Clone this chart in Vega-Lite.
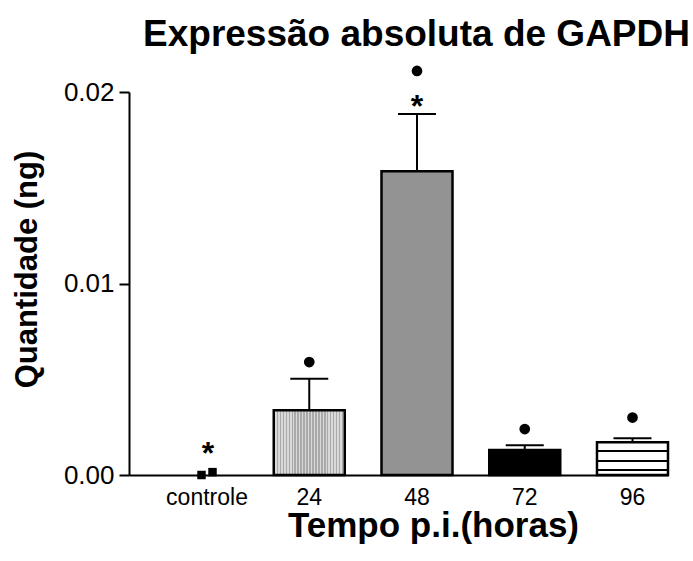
{
  "$schema": "https://vega.github.io/schema/vega-lite/v6.json",
  "width": 539,
  "height": 383,
  "autosize": "none",
  "padding": {"left": 129, "top": 92, "right": 25, "bottom": 86},
  "background": "white",
  "config": {
    "view": {"stroke": null},
    "font": "Liberation Sans",
    "axis": {
      "domainColor": "black",
      "domainWidth": 2,
      "tickColor": "black",
      "tickWidth": 2,
      "labelColor": "black",
      "labelFont": "Liberation Sans",
      "titleColor": "black",
      "titleFont": "Liberation Sans",
      "titleFontWeight": "bold",
      "grid": false
    },
    "axisX": {"labelFontSize": 23, "titleFontSize": 35},
    "axisY": {"labelFontSize": 26, "titleFontSize": 31}
  },
  "title": {
    "text": "Expressão absoluta de GAPDH",
    "font": "Liberation Sans",
    "fontSize": 37,
    "fontWeight": "bold",
    "color": "black",
    "anchor": "middle",
    "frame": "group",
    "dx": 18,
    "offset": 12
  },
  "datasets": {
    "grupos": [
      {"tempo": "controle", "media": null, "superior": null, "sinal": null},
      {"tempo": "24", "media": 0.00338, "superior": 0.00503, "sinal": 0.0059},
      {"tempo": "48", "media": 0.01586, "superior": 0.01885, "sinal": 0.0211},
      {"tempo": "72", "media": 0.0013, "superior": 0.00156, "sinal": 0.0024},
      {"tempo": "96", "media": 0.00171, "superior": 0.00192, "sinal": 0.003}
    ],
    "controle": [
      {"tempo": "controle", "ponto": 1, "quantidade": 0.0},
      {"tempo": "controle", "ponto": 2, "quantidade": 0.00015}
    ],
    "asteriscos": [
      {"tempo": "controle", "posicao": 0.0006},
      {"tempo": "48", "posicao": 0.01869}
    ]
  },
  "encoding": {
    "x": {
      "field": "tempo",
      "type": "nominal",
      "sort": ["controle", "24", "48", "72", "96"],
      "scale": {
        "domain": ["controle", "24", "48", "72", "96"],
        "paddingInner": 0.341,
        "paddingOuter": 0.1717,
        "align": 1
      },
      "axis": {
        "title": "Tempo p.i.(horas)",
        "titleX": 304,
        "titleY": 61,
        "titleBaseline": "alphabetic",
        "labelAngle": 0,
        "labelFontSize": 23,
        "ticks": false,
        "tickSize": 0,
        "labelPadding": 11,
        "labelOffset": {"condition": {"test": "datum.value === 'controle'", "value": 5.5}, "value": 0}
      }
    }
  },
  "layer": [
    {
      "data": {"name": "grupos"},
      "transform": [{"filter": "datum.media != null"}],
      "mark": {"type": "bar", "stroke": "black", "strokeWidth": 2.5},
      "encoding": {
        "y": {
          "field": "media",
          "type": "quantitative",
          "scale": {"domain": [0, 0.02], "nice": false},
          "axis": {
            "title": "Quantidade (ng)",
            "titleX": -92.5,
            "titleY": 177,
            "titleBaseline": "alphabetic",
            "titleAngle": -90,
            "values": [0, 0.01, 0.02],
            "format": ".2f",
            "labelFontSize": 26,
            "tickSize": 10,
            "labelPadding": 5
          }
        },
        "fill": {
          "condition": [
            {
              "test": "datum.tempo === '24'",
              "value": {
                "gradient": "linear",
                "x1": 0, "y1": 0, "x2": 1, "y2": 0,
                "stops": [
                  {"offset": 0, "color": "#a9a9a9"},
                  {"offset": 0.0208, "color": "#a9a9a9"}, {"offset": 0.0208, "color": "#d9d9d9"},
                  {"offset": 0.0417, "color": "#d9d9d9"}, {"offset": 0.0417, "color": "#a9a9a9"},
                  {"offset": 0.0625, "color": "#a9a9a9"}, {"offset": 0.0625, "color": "#d9d9d9"},
                  {"offset": 0.0833, "color": "#d9d9d9"}, {"offset": 0.0833, "color": "#a9a9a9"},
                  {"offset": 0.1042, "color": "#a9a9a9"}, {"offset": 0.1042, "color": "#d9d9d9"},
                  {"offset": 0.125, "color": "#d9d9d9"}, {"offset": 0.125, "color": "#a9a9a9"},
                  {"offset": 0.1458, "color": "#a9a9a9"}, {"offset": 0.1458, "color": "#d9d9d9"},
                  {"offset": 0.1667, "color": "#d9d9d9"}, {"offset": 0.1667, "color": "#a9a9a9"},
                  {"offset": 0.1875, "color": "#a9a9a9"}, {"offset": 0.1875, "color": "#d9d9d9"},
                  {"offset": 0.2083, "color": "#d9d9d9"}, {"offset": 0.2083, "color": "#a9a9a9"},
                  {"offset": 0.2292, "color": "#a9a9a9"}, {"offset": 0.2292, "color": "#d9d9d9"},
                  {"offset": 0.25, "color": "#d9d9d9"}, {"offset": 0.25, "color": "#a9a9a9"},
                  {"offset": 0.2708, "color": "#a9a9a9"}, {"offset": 0.2708, "color": "#d9d9d9"},
                  {"offset": 0.2917, "color": "#d9d9d9"}, {"offset": 0.2917, "color": "#a9a9a9"},
                  {"offset": 0.3125, "color": "#a9a9a9"}, {"offset": 0.3125, "color": "#d9d9d9"},
                  {"offset": 0.3333, "color": "#d9d9d9"}, {"offset": 0.3333, "color": "#a9a9a9"},
                  {"offset": 0.3542, "color": "#a9a9a9"}, {"offset": 0.3542, "color": "#d9d9d9"},
                  {"offset": 0.375, "color": "#d9d9d9"}, {"offset": 0.375, "color": "#a9a9a9"},
                  {"offset": 0.3958, "color": "#a9a9a9"}, {"offset": 0.3958, "color": "#d9d9d9"},
                  {"offset": 0.4167, "color": "#d9d9d9"}, {"offset": 0.4167, "color": "#a9a9a9"},
                  {"offset": 0.4375, "color": "#a9a9a9"}, {"offset": 0.4375, "color": "#d9d9d9"},
                  {"offset": 0.4583, "color": "#d9d9d9"}, {"offset": 0.4583, "color": "#a9a9a9"},
                  {"offset": 0.4792, "color": "#a9a9a9"}, {"offset": 0.4792, "color": "#d9d9d9"},
                  {"offset": 0.5, "color": "#d9d9d9"}, {"offset": 0.5, "color": "#a9a9a9"},
                  {"offset": 0.5208, "color": "#a9a9a9"}, {"offset": 0.5208, "color": "#d9d9d9"},
                  {"offset": 0.5417, "color": "#d9d9d9"}, {"offset": 0.5417, "color": "#a9a9a9"},
                  {"offset": 0.5625, "color": "#a9a9a9"}, {"offset": 0.5625, "color": "#d9d9d9"},
                  {"offset": 0.5833, "color": "#d9d9d9"}, {"offset": 0.5833, "color": "#a9a9a9"},
                  {"offset": 0.6042, "color": "#a9a9a9"}, {"offset": 0.6042, "color": "#d9d9d9"},
                  {"offset": 0.625, "color": "#d9d9d9"}, {"offset": 0.625, "color": "#a9a9a9"},
                  {"offset": 0.6458, "color": "#a9a9a9"}, {"offset": 0.6458, "color": "#d9d9d9"},
                  {"offset": 0.6667, "color": "#d9d9d9"}, {"offset": 0.6667, "color": "#a9a9a9"},
                  {"offset": 0.6875, "color": "#a9a9a9"}, {"offset": 0.6875, "color": "#d9d9d9"},
                  {"offset": 0.7083, "color": "#d9d9d9"}, {"offset": 0.7083, "color": "#a9a9a9"},
                  {"offset": 0.7292, "color": "#a9a9a9"}, {"offset": 0.7292, "color": "#d9d9d9"},
                  {"offset": 0.75, "color": "#d9d9d9"}, {"offset": 0.75, "color": "#a9a9a9"},
                  {"offset": 0.7708, "color": "#a9a9a9"}, {"offset": 0.7708, "color": "#d9d9d9"},
                  {"offset": 0.7917, "color": "#d9d9d9"}, {"offset": 0.7917, "color": "#a9a9a9"},
                  {"offset": 0.8125, "color": "#a9a9a9"}, {"offset": 0.8125, "color": "#d9d9d9"},
                  {"offset": 0.8333, "color": "#d9d9d9"}, {"offset": 0.8333, "color": "#a9a9a9"},
                  {"offset": 0.8542, "color": "#a9a9a9"}, {"offset": 0.8542, "color": "#d9d9d9"},
                  {"offset": 0.875, "color": "#d9d9d9"}, {"offset": 0.875, "color": "#a9a9a9"},
                  {"offset": 0.8958, "color": "#a9a9a9"}, {"offset": 0.8958, "color": "#d9d9d9"},
                  {"offset": 0.9167, "color": "#d9d9d9"}, {"offset": 0.9167, "color": "#a9a9a9"},
                  {"offset": 0.9375, "color": "#a9a9a9"}, {"offset": 0.9375, "color": "#d9d9d9"},
                  {"offset": 0.9583, "color": "#d9d9d9"}, {"offset": 0.9583, "color": "#a9a9a9"},
                  {"offset": 0.9792, "color": "#a9a9a9"}, {"offset": 0.9792, "color": "#d9d9d9"},
                  {"offset": 1, "color": "#d9d9d9"}
                ]
              }
            },
            {"test": "datum.tempo === '48'", "value": "#939393"},
            {"test": "datum.tempo === '72'", "value": "black"}
          ],
          "value": {
            "gradient": "linear",
            "x1": 0, "y1": 0, "x2": 0, "y2": 1,
            "stops": [
              {"offset": 0, "color": "white"},
              {"offset": 0.245, "color": "white"},
              {"offset": 0.246, "color": "black"},
              {"offset": 0.305, "color": "black"},
              {"offset": 0.306, "color": "white"},
              {"offset": 0.55, "color": "white"},
              {"offset": 0.551, "color": "black"},
              {"offset": 0.61, "color": "black"},
              {"offset": 0.611, "color": "white"},
              {"offset": 0.825, "color": "white"},
              {"offset": 0.826, "color": "black"},
              {"offset": 0.885, "color": "black"},
              {"offset": 0.886, "color": "white"},
              {"offset": 1, "color": "white"}
            ]
          }
        }
      }
    },
    {
      "data": {"name": "grupos"},
      "transform": [{"filter": "datum.media != null"}],
      "mark": {"type": "rule", "color": "black", "strokeWidth": 2},
      "encoding": {
        "y": {"field": "media", "type": "quantitative"},
        "y2": {"field": "superior"}
      }
    },
    {
      "data": {"name": "grupos"},
      "transform": [{"filter": "datum.media != null"}],
      "mark": {"type": "tick", "color": "black", "size": 38, "thickness": 2, "opacity": 1},
      "encoding": {
        "y": {"field": "superior", "type": "quantitative"}
      }
    },
    {
      "data": {"name": "grupos"},
      "transform": [{"filter": "datum.sinal != null"}],
      "mark": {"type": "circle", "color": "black", "size": 115, "opacity": 1},
      "encoding": {
        "y": {"field": "sinal", "type": "quantitative"}
      }
    },
    {
      "data": {"name": "controle"},
      "transform": [{"filter": "datum.ponto === 1"}],
      "mark": {"type": "square", "color": "black", "size": 72, "opacity": 1, "filled": true},
      "encoding": {
        "y": {"field": "quantidade", "type": "quantitative"}
      }
    },
    {
      "data": {"name": "controle"},
      "transform": [{"filter": "datum.ponto === 2"}],
      "mark": {"type": "square", "color": "black", "size": 72, "opacity": 1, "filled": true, "xOffset": 11},
      "encoding": {
        "y": {"field": "quantidade", "type": "quantitative"}
      }
    },
    {
      "data": {"name": "asteriscos"},
      "transform": [{"filter": "datum.tempo === 'controle'"}],
      "mark": {"type": "text", "text": "*", "font": "Liberation Sans", "fontSize": 32, "fontWeight": "bold", "color": "black", "baseline": "alphabetic", "dx": 6.5},
      "encoding": {
        "y": {"field": "posicao", "type": "quantitative"}
      }
    },
    {
      "data": {"name": "asteriscos"},
      "transform": [{"filter": "datum.tempo === '48'"}],
      "mark": {"type": "text", "text": "*", "font": "Liberation Sans", "fontSize": 32, "fontWeight": "bold", "color": "black", "baseline": "alphabetic"},
      "encoding": {
        "y": {"field": "posicao", "type": "quantitative"}
      }
    }
  ]
}
